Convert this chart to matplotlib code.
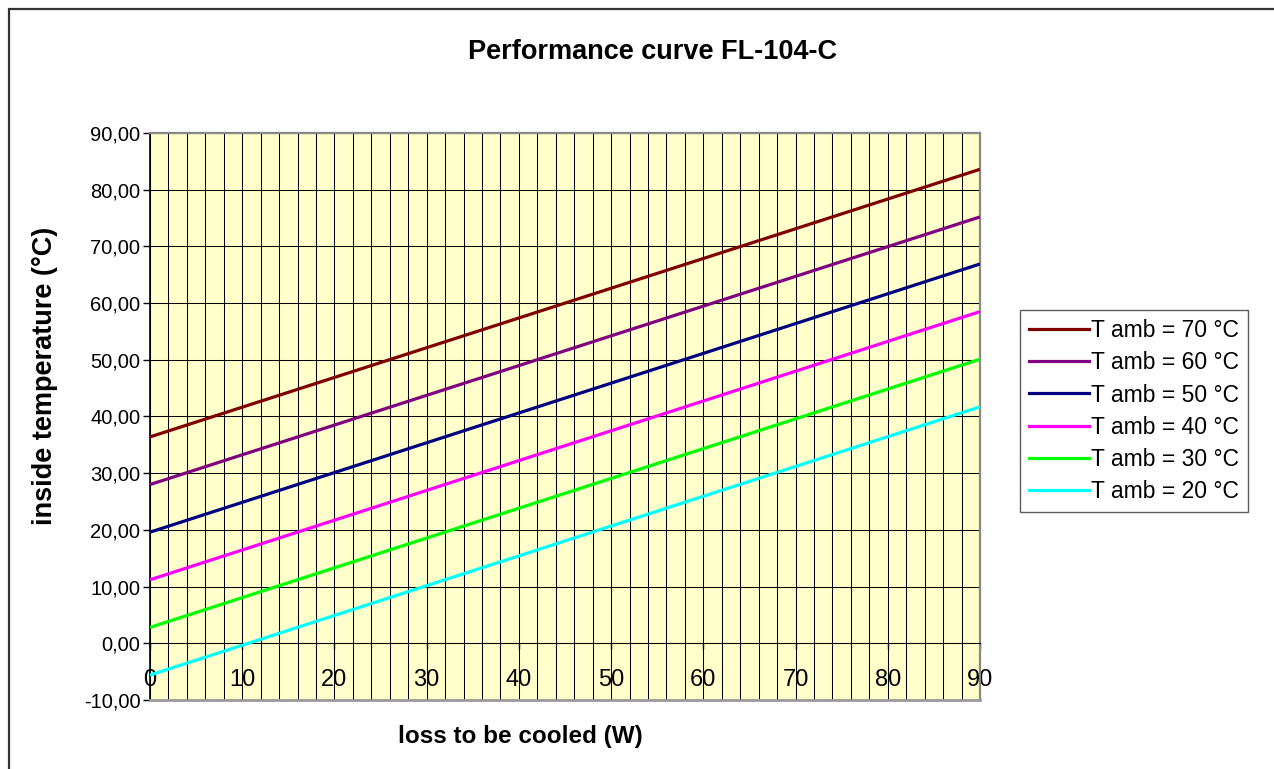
import matplotlib
matplotlib.use("Agg")
import matplotlib.pyplot as plt
from matplotlib.ticker import FuncFormatter, MultipleLocator
from matplotlib.lines import Line2D

plt.rcParams['font.family'] = ['Liberation Sans', 'DejaVu Sans']

# --- data (straight lines, read at x=0 and x=90) ---
loss_w = [0, 90]
t_amb_70 = [36.4, 83.6]
t_amb_60 = [28.0, 75.2]
t_amb_50 = [19.6, 66.9]
t_amb_40 = [11.2, 58.5]
t_amb_30 = [2.8, 50.1]
t_amb_20 = [-5.6, 41.7]
series_labels = ["T amb = 70 °C", "T amb = 60 °C", "T amb = 50 °C",
                 "T amb = 40 °C", "T amb = 30 °C", "T amb = 20 °C"]
series_colors = ["#800000", "#800080", "#000080", "#FF00FF", "#00FF00", "#00FFFF"]
x_ticks = [0, 10, 20, 30, 40, 50, 60, 70, 80, 90]
y_ticks = [-10, 0, 10, 20, 30, 40, 50, 60, 70, 80, 90]

W, H = 1274, 769
fig = plt.figure(figsize=(W / 100, H / 100), dpi=100, facecolor='white')

# outer chart border
fig.add_artist(plt.Rectangle((9 / W, -0.01), 1.2, 1 - 9 / H + 0.01, transform=fig.transFigure,
                             fill=False, edgecolor='#333333', lw=1.6))

ax = fig.add_axes([150 / W, 1 - 700 / H, 830 / W, 567 / H])
ax.set_facecolor('#FFFFCC')

all_series = [t_amb_70, t_amb_60, t_amb_50, t_amb_40, t_amb_30, t_amb_20]
for vals, lab, col in zip(all_series, series_labels, series_colors):
    ax.plot(loss_w, vals, color=col, lw=2.3, label=lab, zorder=3, solid_capstyle='butt')

ax.set_xlim(0, 90)
ax.set_ylim(-10, 90)

# grid: vertical every 2, horizontal every 10
ax.xaxis.set_minor_locator(MultipleLocator(2))
ax.set_xticks(x_ticks)
ax.set_yticks(y_ticks)
ax.grid(True, which='minor', axis='x', color='black', lw=0.75, zorder=1)
ax.grid(True, which='major', axis='x', color='black', lw=0.75, zorder=1)
ax.grid(True, which='major', axis='y', color='black', lw=0.75, zorder=1)
ax.set_axisbelow(True)

ax.yaxis.set_major_formatter(FuncFormatter(lambda v, p: f"{v:.2f}".replace('.', ',')))

# x axis crosses at y = 0
ax.spines['bottom'].set_position(('data', 0))
ax.spines['bottom'].set_color('black')
ax.spines['bottom'].set_linewidth(0.75)
ax.spines['left'].set_color('black')
ax.spines['left'].set_linewidth(1.2)
for s in ['top', 'right']:
    ax.spines[s].set_color('#888888')
    ax.spines[s].set_linewidth(1.6)
ax.axhline(-10, color='#999999', lw=2.0, zorder=4, clip_on=False)

ax.tick_params(axis='x', which='minor', length=0)
ax.tick_params(axis='x', which='major', direction='out', length=4.5, width=1,
               pad=14, labelsize=17, color='black')
ax.tick_params(axis='y', direction='out', length=5, width=1, pad=2,
               labelsize=14.5, color='black')
for lbl in ax.get_xticklabels():
    lbl.set_zorder(5)

fig.text(652 / W, 1 - 52 / H, "Performance curve FL-104-C", ha='center', va='center',
         fontsize=19.5, fontweight='bold')
fig.text(45 / W, 1 - 376 / H, "inside temperature (°C)", ha='center', va='center',
         rotation=90, fontsize=19.5, fontweight='bold')
fig.text(520 / W, 1 - 737 / H, "loss to be cooled (W)", ha='center', va='center',
         fontsize=17.5, fontweight='bold')

handles = [Line2D([0], [0], color=c, lw=2.3) for c in series_colors]
leg = fig.legend(handles, series_labels, loc='upper left',
                 bbox_to_anchor=(1020 / W, 1 - 310 / H), fontsize=16.5, frameon=True,
                 fancybox=False, edgecolor='#333333', handlelength=2.6,
                 handletextpad=0.1, labelspacing=0.4, borderpad=0.4, borderaxespad=0)
leg.get_frame().set_linewidth(1.0)

fig.savefig("out.png", dpi=100, facecolor='white')
